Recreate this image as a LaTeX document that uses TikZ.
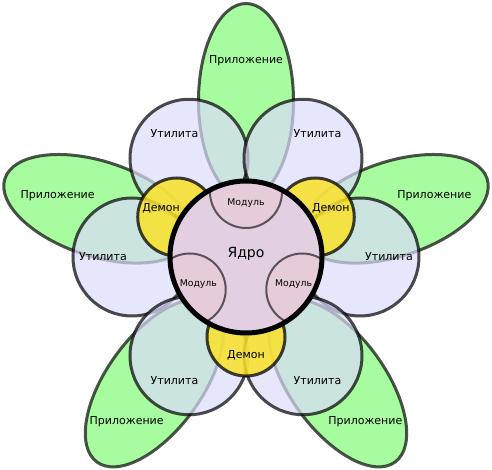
\documentclass[tikz,border=0pt]{standalone}
\usepackage{fontspec}
\setmainfont{DejaVu Sans}
\definecolor{appgreen}{RGB}{168,252,160}
\definecolor{utilfill}{RGB}{219,219,251}
\definecolor{demonfill}{RGB}{250,226,40}
\definecolor{corefill}{RGB}{226,208,226}
\definecolor{modfill}{RGB}{230,204,218}
\tikzset{
  petal/.style={fill=appgreen, draw=black, draw opacity=0.68, line width=3pt},
  util/.style={fill=utilfill, draw=black, opacity=0.7, line width=3pt},
  demon/.style={fill=demonfill, fill opacity=0.85, draw=black, draw opacity=0.75, line width=3pt},
  modshape/.style={fill=modfill, draw=black, draw opacity=0.6, line width=2pt},
  lbl/.style={inner sep=0pt, font=\fontsize{11}{13}\selectfont},
  modlbl/.style={inner sep=0pt, font=\fontsize{9.3}{11}\selectfont},
  corelbl/.style={inner sep=0pt, font=\fontsize{14}{16}\selectfont}
}
\begin{document}
\begin{tikzpicture}
\useasboundingbox (-246pt,-213pt) rectangle (246pt,257pt);
% applications (petals)
\foreach \a in {90,162,18,234,306}{
  \draw[petal, shift={(\a:156pt)}, rotate=\a] (0,0) ellipse [x radius=97.5pt, y radius=47.5pt];
}
% utilities
\foreach \a in {120,60,180,0,240,300}{
  \draw[util] (\a:114pt) circle [radius=59pt];
}
% demons
\foreach \a in {150,30,270}{
  \draw[demon] (\a:80pt) circle [radius=39pt];
}
% core
\fill[corefill] (0,0) circle [radius=76pt];
\begin{scope}
  \clip (0,0) circle [radius=76pt];
  \foreach \a in {90,210,330}{
    \draw[modshape] (\a:65pt) circle [radius=36pt];
  }
\end{scope}
\draw[line width=5pt] (0,0) circle [radius=76pt];
% labels
\node[corelbl] (core) at (0,3pt) {Ядро};
\node[modlbl] (mod1) at (90:54pt) {Модуль};
\node[modlbl] (mod2) at (210:55pt) {Модуль};
\node[modlbl] (mod3) at (330:55pt) {Модуль};
\node[lbl] (dem1) at (150:98pt) {Демон};
\node[lbl] (dem2) at (30:98pt) {Демон};
\node[lbl] (dem3) at (270:98pt) {Демон};
\node[lbl] (ut1) at (120:143pt) {Утилита};
\node[lbl] (ut2) at (60:143pt) {Утилита};
\node[lbl] (ut3) at (180:143pt) {Утилита};
\node[lbl] (ut4) at (0:143pt) {Утилита};
\node[lbl] (ut5) at (240:143pt) {Утилита};
\node[lbl] (ut6) at (300:143pt) {Утилита};
\node[lbl] (app1) at (90:196pt) {Приложение};
\node[lbl] (app2) at (162:198pt) {Приложение};
\node[lbl] (app3) at (18:198pt) {Приложение};
\node[lbl] (app4) at (234:203pt) {Приложение};
\node[lbl] (app5) at (306:203pt) {Приложение};
\end{tikzpicture}
\end{document}
